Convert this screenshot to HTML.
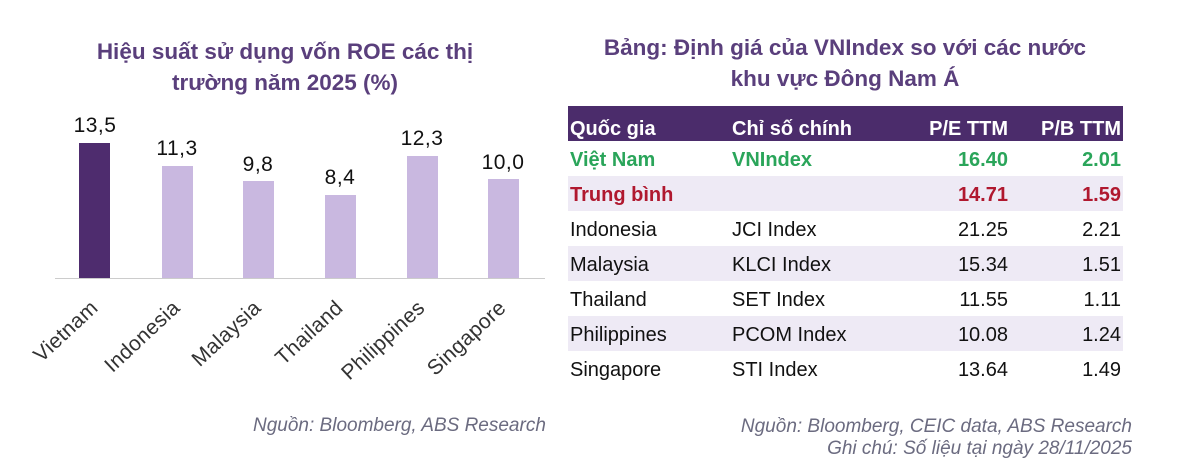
<!DOCTYPE html>
<html><head><meta charset="utf-8"><style>
body{margin:0;width:1200px;height:462px;background:#fff;font-family:"Liberation Sans",sans-serif;position:relative;overflow:hidden}
.t{position:absolute;white-space:nowrap}
.title{color:#5a3f7c;font-weight:bold;font-size:22.5px;text-align:center;line-height:31px}
.bar{position:absolute;width:31px;background:#c9b8e0;bottom:184px}
.val{position:absolute;font-size:21px;letter-spacing:0.5px;color:#111;width:80px;text-align:center}
.cat{position:absolute;font-size:21px;letter-spacing:0.3px;color:#333;transform-origin:right center;transform:rotate(-43deg);text-align:right;width:160px}
table{position:absolute;left:568px;top:106px;width:555px;border-collapse:collapse;font-size:20px}
td{height:35px;padding:4px 2px 0 2px;box-sizing:border-box;color:#111}
tr.h td{background:#4b2c6b;color:#fff;font-weight:bold;height:35px;vertical-align:bottom;padding:0 2px 0 2px}
tr.s td{background:#eeeaf5}
.r{text-align:right}
.src{color:#6b6b80;font-style:italic;font-size:19px}
</style></head><body>
<div class="t title" style="left:60px;top:36px;width:450px">Hiệu suất sử dụng vốn ROE các thị<br>trường năm 2025 (%)</div>
<div style="position:absolute;left:55px;top:278px;width:490px;height:1px;background:#ccc"></div>
<div class="bar" style="left:79px;top:143px;background:#4e2c6e"></div>
<div class="bar" style="left:162px;top:166px"></div>
<div class="bar" style="left:243px;top:181px"></div>
<div class="bar" style="left:325px;top:195px"></div>
<div class="bar" style="left:407px;top:156px"></div>
<div class="bar" style="left:488px;top:179px"></div>
<div class="val" style="left:55px;top:114px">13,5</div>
<div class="val" style="left:137px;top:137px">11,3</div>
<div class="val" style="left:218px;top:153px">9,8</div>
<div class="val" style="left:300px;top:166px">8,4</div>
<div class="val" style="left:382px;top:127px">12,3</div>
<div class="val" style="left:463px;top:151px">10,0</div>
<div class="cat" style="left:-65px;top:293px">Vietnam</div>
<div class="cat" style="left:17px;top:293px">Indonesia</div>
<div class="cat" style="left:98px;top:293px">Malaysia</div>
<div class="cat" style="left:180px;top:293px">Thailand</div>
<div class="cat" style="left:262px;top:293px">Philippines</div>
<div class="cat" style="left:343px;top:293px">Singapore</div>
<div class="t src" style="left:253px;top:415px">Nguồn: Bloomberg, ABS Research</div>

<div class="t title" style="left:590px;top:32px;width:510px">Bảng: Định giá của VNIndex so với các nước<br>khu vực Đông Nam Á</div>
<table>
<colgroup><col style="width:162px"><col style="width:170px"><col style="width:110px"><col style="width:113px"></colgroup>
<tr class="h"><td>Quốc gia</td><td>Chỉ số chính</td><td class="r">P/E TTM</td><td class="r">P/B TTM</td></tr>
<tr style="font-weight:bold"><td style="color:#2aa55a">Việt Nam</td><td style="color:#2aa55a">VNIndex</td><td class="r" style="color:#2aa55a">16.40</td><td class="r" style="color:#2aa55a">2.01</td></tr>
<tr class="s" style="font-weight:bold"><td style="color:#b0182f">Trung bình</td><td></td><td class="r" style="color:#b0182f">14.71</td><td class="r" style="color:#b0182f">1.59</td></tr>
<tr><td>Indonesia</td><td>JCI Index</td><td class="r">21.25</td><td class="r">2.21</td></tr>
<tr class="s"><td>Malaysia</td><td>KLCI Index</td><td class="r">15.34</td><td class="r">1.51</td></tr>
<tr><td>Thailand</td><td>SET Index</td><td class="r">11.55</td><td class="r">1.11</td></tr>
<tr class="s"><td>Philippines</td><td>PCOM Index</td><td class="r">10.08</td><td class="r">1.24</td></tr>
<tr><td>Singapore</td><td>STI Index</td><td class="r">13.64</td><td class="r">1.49</td></tr>
</table>
<div class="t src" style="right:68px;top:416px;text-align:right">Nguồn: Bloomberg, CEIC data, ABS Research</div>
<div class="t src" style="right:68px;top:438px;text-align:right">Ghi chú: Số liệu tại ngày 28/11/2025</div>
</body></html>
